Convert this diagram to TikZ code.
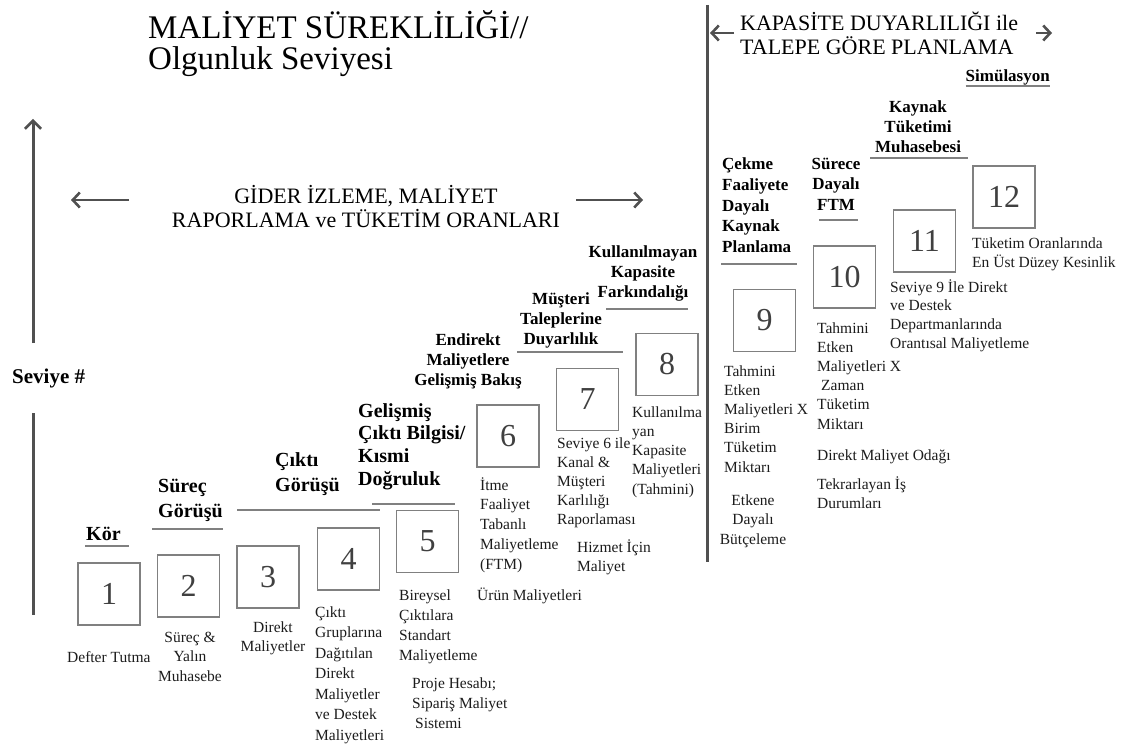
\documentclass[tikz,border=0pt]{standalone}
\usepackage{fontspec}
\setmainfont{Liberation Serif}
\usetikzlibrary{arrows.meta}
\definecolor{axisgray}{HTML}{505050}
\definecolor{boxgray}{HTML}{808080}
\definecolor{rulegray}{HTML}{808080}
\definecolor{textdark}{HTML}{1C1C1C}
\definecolor{numgray}{HTML}{404040}
% stacked lines whose baseline is the baseline of the first line
\newcommand\stackL[1]{\vtop{\halign{##\hfil\cr#1\crcr}}}
\newcommand\stackC[1]{\vtop{\halign{\hfil##\hfil\cr#1\crcr}}}
\begin{document}
\begin{tikzpicture}[x=1pt,y=-1pt,
  lvl/.style={draw=boxgray, line width=1.3pt, minimum size=62pt, inner sep=0pt,
    font=\fontsize{32}{32}\selectfont, text=numgray},
  note/.style={inner sep=0pt, anchor=base west, text=textdark,
    font=\fontsize{15.5}{19.5}\selectfont},
  tag/.style={inner sep=0pt, anchor=base west, text=black,
    font=\fontsize{17}{20}\selectfont\bfseries},
  bigtag/.style={inner sep=0pt, anchor=base west, text=black,
    font=\fontsize{20}{25.5}\selectfont\bfseries},
  head/.style={inner sep=0pt, anchor=base west, text=black,
    font=\fontsize{22}{24.5}\selectfont},
  ul/.style={draw=rulegray, line width=1.6pt},
  axis/.style={draw=axisgray, line width=3pt},
  harrow/.style={draw=axisgray, line width=2.6pt,
    -{Straight Barb[length=7pt,width=15pt,line width=2.6pt]}}
]
\fill[white] (0,0) rectangle (1123,746);
\useasboundingbox (0,0) rectangle (1123,746);

% ---- headings ----
\node[head, font=\fontsize{33}{31}\selectfont] (ttl) at (148,39)
  {\stackL{MALİYET SÜREKLİLİĞİ//\cr Olgunluk Seviyesi}};
\node[head, anchor=base] (gider) at (366,203)
  {\stackC{GİDER İZLEME, MALİYET\cr RAPORLAMA ve TÜKETİM ORANLARI}};
\node[head, font=\fontsize{22}{24}\selectfont] (kap) at (740,31)
  {\stackL{KAPASİTE DUYARLILIĞI ile\cr TALEPE GÖRE PLANLAMA}};
\node[tag, anchor=base east] (sim) at (1050,82) {Simülasyon};
\draw[ul] (sim.base west) ++(0,4) coordinate (simA) -- (simA -| sim.east);

% ---- arrows ----
\coordinate (gL0) at (129,200); \coordinate (gL1) at (71,200);
\coordinate (gR0) at (576,200); \coordinate (gR1) at (643,200);
\draw[harrow] (gL0) -- (gL1);
\draw[harrow] (gR0) -- (gR1);
\coordinate (kL0) at (734,33); \coordinate (kL1) at (710,33);
\coordinate (kR0) at (1036,33); \coordinate (kR1) at (1052,33);
\draw[harrow] (kL0) -- (kL1);
\draw[harrow] (kR0) -- (kR1);

% ---- level axis ----
\node[bigtag, font=\fontsize{21}{25}\selectfont\bfseries] (sev) at (12,383) {Seviye \#};
\coordinate (axTop) at (33,119); \coordinate (axA) at (33,343);
\coordinate (axB) at (33,413);   \coordinate (axBot) at (33,615);
\draw[axis, -{Straight Barb[length=8pt,width=16pt,line width=2.6pt]}] (axA) -- (axTop);
\draw[axis] (axB) -- (axBot);

% ---- separator ----
\coordinate (sepT) at (707,5); \coordinate (sepB) at (707,562);
\draw[axis] (sepT) -- (sepB);

% ---- level boxes ----
\node[lvl] (b1)  at (109,594)   {1};
\node[lvl] (b2)  at (188.5,586) {2};
\node[lvl] (b3)  at (268,577)   {3};
\node[lvl] (b4)  at (348.5,559) {4};
\node[lvl] (b5)  at (427.5,541.5) {5};
\node[lvl] (b6)  at (508,436)   {6};
\node[lvl] (b7)  at (587.5,399.5) {7};
\node[lvl] (b8)  at (667,364.5) {8};
\node[lvl] (b9)  at (764.5,320.5) {9};
\node[lvl] (b10) at (844.5,277) {10};
\node[lvl] (b11) at (924.5,241) {11};
\node[lvl] (b12) at (1004,197)  {12};

% ---- stage titles ----
\node[bigtag] (k1) at (86,540) {Kör};
\draw[ul] (85,546) -- (129,546);
\node[bigtag] (k2) at (158,492) {\stackL{Süreç\cr Görüşü}};
\draw[ul] (152,529) -- (223,529);
\node[bigtag] (k3) at (275,466) {\stackL{Çıktı\cr Görüşü}};
\draw[ul] (237,510) -- (380,510);
\node[bigtag, font=\fontsize{20}{22.7}\selectfont\bfseries] (k5) at (358,417)
  {\stackL{Gelişmiş\cr Çıktı Bilgisi/\cr Kısmi\cr Doğruluk}};
\draw[ul] (372,504) -- (455,504);
\node[tag, anchor=base] (k6) at (468,345)
  {\stackC{Endirekt\cr Maliyetlere\cr Gelişmiş Bakış}};
\node[tag, anchor=base] (k7) at (561,304)
  {\stackC{Müşteri\cr Taleplerine\cr Duyarlılık}};
\draw[ul] (517,352) -- (623,352);
\node[tag, anchor=base] (k8) at (643,257)
  {\stackC{Kullanılmayan\cr Kapasite\cr Farkındalığı}};
\draw[ul] (606,309) -- (688,309);
\node[tag, font=\fontsize{17}{20.5}\selectfont\bfseries] (k9) at (722,170)
  {\stackL{Çekme\cr Faaliyete\cr Dayalı\cr Kaynak\cr Planlama}};
\draw[ul] (721,264) -- (797,264);
\node[tag, anchor=base] (k10) at (836,170)
  {\stackC{Sürece\cr Dayalı\cr FTM}};
\draw[ul] (819,220) -- (858,220);
\node[tag, anchor=base] (k12) at (918,113)
  {\stackC{Kaynak\cr Tüketimi\cr Muhasebesi}};
\draw[ul] (870,158) -- (968,158);

% ---- descriptions ----
\node[note] (d1) at (67,662) {Defter Tutma};
\node[note, anchor=base] (d2) at (190,642) {\stackC{Süreç \&\cr Yalın\cr Muhasebe}};
\node[note, anchor=base] (d3) at (273,632) {\stackC{Direkt\cr Maliyetler}};
\node[note, font=\fontsize{15.5}{20.5}\selectfont] (d4) at (315,617)
  {\stackL{Çıktı\cr Gruplarına\cr Dağıtılan\cr Direkt\cr Maliyetler\cr ve Destek\cr Maliyetleri}};
\node[note, font=\fontsize{15.5}{20.3}\selectfont] (d5) at (399,600)
  {\stackL{Bireysel\cr Çıktılara\cr Standart\cr Maliyetleme}};
\node[note, font=\fontsize{15.5}{20}\selectfont] (d5b) at (412,688)
  {\stackL{Proje Hesabı;\cr Sipariş Maliyet\cr \kern3pt Sistemi}};
\node[note] (d6b) at (477,600) {Ürün Maliyetleri};
\node[note, font=\fontsize{15.5}{19.9}\selectfont] (d6) at (480,490)
  {\stackL{İtme\cr Faaliyet\cr Tabanlı\cr Maliyetleme\cr (FTM)}};
\node[note, font=\fontsize{15.5}{19.2}\selectfont] (d7) at (557,448)
  {\stackL{Seviye 6 ile\cr Kanal \&\cr Müşteri\cr Karlılığı\cr Raporlaması}};
\node[note] (d7b) at (577,552) {\stackL{Hizmet İçin\cr Maliyet}};
\node[note, font=\fontsize{15.5}{19.3}\selectfont] (d8) at (632,417)
  {\stackL{Kullanılma\cr yan\cr Kapasite\cr Maliyetleri\cr (Tahmini)}};
\node[note, font=\fontsize{15.5}{19.2}\selectfont] (d9) at (724,376)
  {\stackL{Tahmini\cr Etken\cr Maliyetleri X\cr Birim\cr Tüketim\cr Miktarı}};
\node[note, anchor=base] (d9b) at (753,505) {\stackC{Etkene\cr Dayalı\cr Bütçeleme}};
\node[note, font=\fontsize{15.5}{19.2}\selectfont] (d10) at (817,333)
  {\stackL{Tahmini\cr Etken\cr Maliyetleri X\cr \kern4pt Zaman\cr Tüketim\cr Miktarı}};
\node[note] (d10b) at (817,460) {Direkt Maliyet Odağı};
\node[note] (d10c) at (817,489) {\stackL{Tekrarlayan İş\cr Durumları}};
\node[note, font=\fontsize{15.5}{18.8}\selectfont] (d11) at (890,292)
  {\stackL{Seviye 9 İle Direkt\cr ve Destek\cr Departmanlarında\cr Orantısal Maliyetleme}};
\node[note] (d12) at (972,248) {\stackL{Tüketim Oranlarında\cr En Üst Düzey Kesinlik}};
\end{tikzpicture}
\end{document}
